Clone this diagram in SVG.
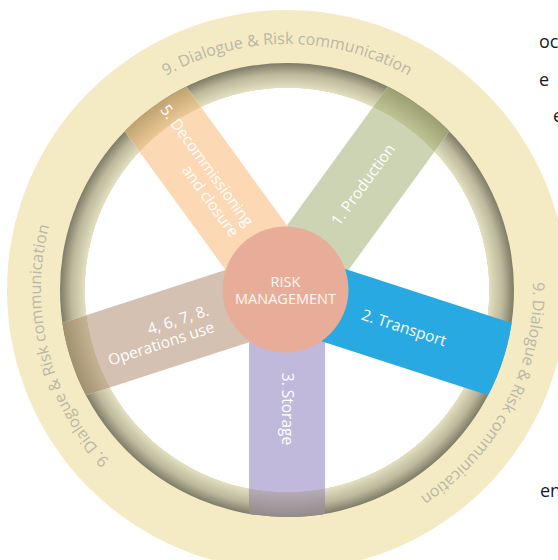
<svg xmlns="http://www.w3.org/2000/svg" xmlns:xlink="http://www.w3.org/1999/xlink" width="558" height="560" viewBox="0 0 558 560">
<style>
.ringtext{font-family:"Open Sans","Noto Sans",sans-serif;font-size:16px;fill:#bab7a4;}
.lbl{font-family:"Open Sans","Noto Sans",sans-serif;font-size:15.5px;fill:#ffffff;}
.ctr{font-family:"Open Sans","Noto Sans",sans-serif;font-size:14.5px;fill:#fff8f2;text-anchor:middle;}
.bg{font-family:"Open Sans","Noto Sans",sans-serif;font-size:18px;fill:#1a1a1a;}
.tip{fill:url(#tipGrad);mix-blend-mode:multiply;}
</style>
<defs>
<radialGradient id="ringGrad" gradientUnits="userSpaceOnUse" cx="287" cy="290" r="227">
<stop offset="0" stop-color="#ffffff"/>
<stop offset="0.889" stop-color="#ffffff"/>
<stop offset="0.891" stop-color="#e3dfc0"/>
<stop offset="0.95" stop-color="#bcb99c"/>
<stop offset="1" stop-color="#7f7c67"/>
</radialGradient>
<radialGradient id="tipGrad" gradientUnits="userSpaceOnUse" cx="0" cy="0" r="227">
<stop offset="0" stop-color="#ffffff"/>
<stop offset="0.889" stop-color="#ffffff"/>
<stop offset="0.891" stop-color="#eeecd4"/>
<stop offset="1" stop-color="#c2bf9f"/>
</radialGradient>
<clipPath id="wheelClip"><circle cx="0" cy="0" r="227"/></clipPath>
<path id="ringPath" d="M 287 536 A 246 246 0 1 1 287 44 A 246 246 0 1 1 287 536"/>
</defs>

<g id="outer-ring">
<circle cx="287" cy="290" r="280" fill="#f4ebc4"/>
<circle cx="287" cy="290" r="227" fill="url(#ringGrad)"/>
<text class="ringtext"><textPath xlink:href="#ringPath" href="#ringPath" startOffset="50%" text-anchor="middle">9. Dialogue &amp; Risk communication</textPath></text>
<text class="ringtext"><textPath xlink:href="#ringPath" href="#ringPath" startOffset="82.7%" text-anchor="middle">9. Dialogue &amp; Risk communication</textPath></text>
<text class="ringtext"><textPath xlink:href="#ringPath" href="#ringPath" startOffset="21%" text-anchor="middle">9. Dialogue &amp; Risk communication</textPath></text>
</g>

<g id="spoke-production" transform="translate(287 290)">
<g clip-path="url(#wheelClip)">
<rect x="-38" y="-227" width="76" height="227" fill="#cdd4b3" transform="rotate(36)"/>
<rect class="tip" x="-38" y="-227" width="76" height="227" transform="rotate(36)"/>
</g>
<text class="lbl" transform="rotate(-54)" x="130" y="5" text-anchor="middle">1. Production</text>
</g>

<g id="spoke-storage" transform="translate(287 290)">
<g clip-path="url(#wheelClip)">
<rect x="-38" y="-227" width="76" height="227" fill="#c1b9dc" transform="rotate(180)"/>
<rect class="tip" x="-38" y="-227" width="76" height="227" transform="rotate(180)"/>
</g>
<text class="lbl" transform="rotate(90)" x="119" y="5" text-anchor="middle">3. Storage</text>
</g>

<g id="spoke-operations" transform="translate(287 290)">
<g clip-path="url(#wheelClip)">
<rect x="-38" y="-227" width="76" height="227" fill="#d4c1b1" transform="rotate(252)"/>
<rect class="tip" x="-38" y="-227" width="76" height="227" transform="rotate(252)"/>
</g>
<text class="lbl" transform="rotate(-18)" text-anchor="end"><tspan x="-81" y="0">4, 6, 7, 8.</tspan><tspan x="-81" y="17.5">Operations use</tspan></text>
</g>

<g id="spoke-decommissioning" transform="translate(287 290)">
<g clip-path="url(#wheelClip)">
<rect x="-38" y="-227" width="76" height="227" fill="#fcd9b4" transform="rotate(324)"/>
<rect class="tip" x="-38" y="-227" width="76" height="227" transform="rotate(324)"/>
</g>
<text class="lbl" transform="rotate(54)" text-anchor="end"><tspan x="-75" y="-3">5. Decommissioning</tspan><tspan x="-75" y="15">and closure</tspan></text>
</g>

<g id="spoke-transport" transform="translate(287 290)">
<g clip-path="url(#wheelClip)">
<rect x="-38" y="-227" width="76" height="227" fill="#29a9e1" transform="rotate(108)"/>
</g>
<text class="lbl" transform="rotate(18)" x="123" y="5" text-anchor="middle">2. Transport</text>
</g>

<g id="risk-management">
<circle cx="285.5" cy="289.5" r="63" fill="#e8ad98"/>
<text class="ctr" x="285.5" y="286.5">RISK</text>
<text class="ctr" x="285.5" y="303.5">MANAGEMENT</text>
</g>

<g id="page-text">
<text class="bg" x="539" y="48">oc</text>
<text class="bg" x="539" y="86">e</text>
<text class="bg" x="553" y="122">e</text>
<text class="bg" x="540" y="497">en</text>
</g>
</svg>
